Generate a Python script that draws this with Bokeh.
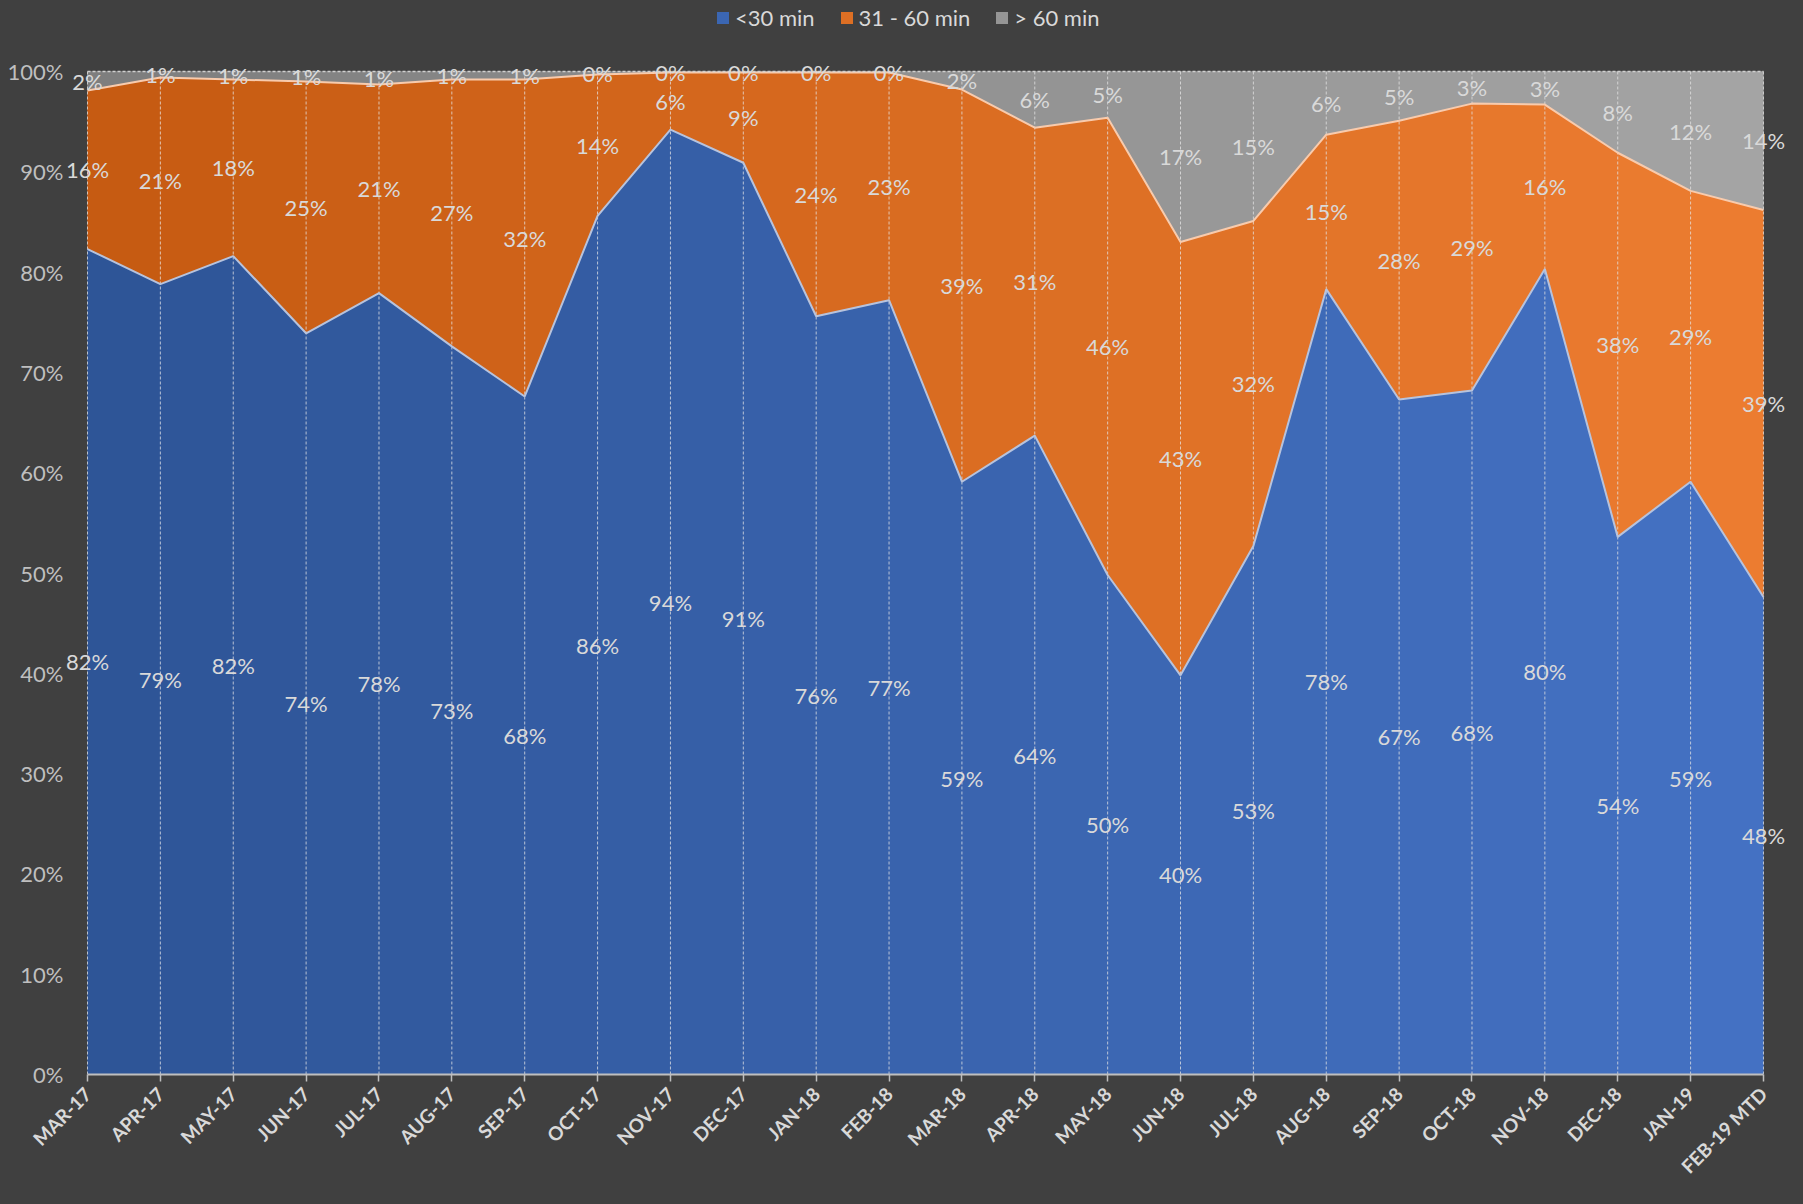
import numpy as np
from bokeh.plotting import figure
from bokeh.models import (Range1d, FixedTicker, Legend, LegendItem, PrintfTickFormatter,
                          GlobalInlineStyleSheet)
from bokeh.core.properties import value
from bokeh.embed import file_html
from bokeh.resources import INLINE

months = ["MAR-17", "APR-17", "MAY-17", "JUN-17", "JUL-17", "AUG-17", "SEP-17", "OCT-17",
          "NOV-17", "DEC-17", "JAN-18", "FEB-18", "MAR-18", "APR-18", "MAY-18", "JUN-18",
          "JUL-18", "AUG-18", "SEP-18", "OCT-18", "NOV-18", "DEC-18", "JAN-19", "FEB-19 MTD"]
lt30 = [82.3, 78.8, 81.6, 73.9, 77.9, 72.6, 67.6, 85.6, 94.2, 90.9, 75.6, 77.2,
        59.1, 63.7, 49.8, 39.8, 52.7, 78.3, 67.3, 68.2, 80.3, 53.6, 59.1, 47.6]
m31_60 = [15.8, 20.6, 17.6, 25.1, 20.8, 26.6, 31.6, 14.1, 5.7, 9.0, 24.3, 22.7,
          39.1, 30.7, 45.6, 43.2, 32.4, 15.4, 27.8, 28.6, 16.4, 38.3, 29.0, 38.6]
gt60 = [1.9, 0.6, 0.8, 1.0, 1.3, 0.8, 0.8, 0.3, 0.1, 0.1, 0.1, 0.1,
        1.8, 5.6, 4.6, 17.0, 14.9, 6.3, 4.9, 3.2, 3.3, 8.1, 11.9, 13.8]
series_names = ["<30 min", "31 - 60 min", "> 60 min"]
y_ticks = [0, 10, 20, 30, 40, 50, 60, 70, 80, 90, 100]

BG = "#404040"
FONT = value("Lato")

x = np.arange(len(months), dtype=float)
b = np.array(lt30)
o = np.array(m31_60)
g = np.array(gt60)
top_b = b
top_o = b + o
top_g = b + o + g
zeros = np.zeros_like(b)


def lerp(c1, c2, t):
    return "#%02x%02x%02x" % tuple(int(round(a + (c - a) * t)) for a, c in zip(c1, c2))


grads = [((46, 84, 150), (68, 114, 196)),
         ((197, 90, 17), (237, 125, 49)),
         ((125, 125, 125), (165, 165, 165))]
bands = [(zeros, top_b), (top_b, top_o), (top_o, top_g)]

p = figure(width=1787, height=1188,
           x_range=Range1d(-0.302, 23.33), y_range=Range1d(0, 107.08),
           output_backend="svg", toolbar_location=None,
           min_border_left=65, min_border_right=0, min_border_top=0, min_border_bottom=114)
p.background_fill_color = BG
p.border_fill_color = BG
p.outline_line_color = None
p.xgrid.visible = False
p.ygrid.visible = False
p.stylesheets = [GlobalInlineStyleSheet(css="html, body { background-color: #404040; }")]

n = len(months)
base_renderers = []
for (lo, hi), (c1, c2) in zip(bands, grads):
    # base fill (also used as legend glyph) hides seams between gradient slices
    base_renderers.append(p.varea(x=x, y1=lo, y2=hi, fill_color=lerp(c1, c2, 0.6)))
    for i in range(n - 1):
        t = (i + 0.5) / (n - 1)
        p.varea(x=x[i:i + 2], y1=lo[i:i + 2], y2=hi[i:i + 2], fill_color=lerp(c1, c2, t))

# vertical dashed drop lines
p.segment(x0=x, y0=zeros, x1=x, y1=top_g, line_color="#E6E6E6", line_alpha=0.75,
          line_width=1, line_dash="3 2")

# series edges
p.line(x, top_b, line_color="#B7C3DD", line_width=2)
p.line(x, top_o, line_color="#F8CBAD", line_width=2)
p.line(x, top_g, line_color="#D0D0D0", line_width=1.5, line_dash="3 2")

# data labels
def lab(v):
    return ["%d%%" % int(np.floor(val + 0.5)) for val in v]

for vals, lo in [(b, zeros), (o, top_b), (g, top_o)]:
    p.text(x=x, y=lo + vals / 2, text=lab(vals), text_align="center", text_baseline="middle",
           text_color="#D9D9D9", text_font=FONT, text_font_size="22px")

# x axis
p.xaxis.ticker = FixedTicker(ticks=list(range(n)))
p.xaxis.major_label_overrides = {i: m for i, m in enumerate(months)}
p.xaxis.major_label_orientation = np.pi / 4
p.xaxis.bounds = (0, n - 1)
p.xaxis.axis_line_color = "#BFBFBF"
p.xaxis.axis_line_width = 2
p.xaxis.major_tick_line_color = "#BFBFBF"
p.xaxis.major_tick_line_width = 1.5
p.xaxis.major_tick_out = 7
p.xaxis.major_tick_in = 0
p.xaxis.minor_tick_line_color = None
p.xaxis.major_label_text_color = "#D9D9D9"
p.xaxis.major_label_text_font = "Lato"
p.xaxis.major_label_text_font_style = "bold"
p.xaxis.major_label_text_font_size = "19px"
p.xaxis.major_label_standoff = 9

# y axis
p.yaxis.ticker = FixedTicker(ticks=y_ticks)
p.yaxis.formatter = PrintfTickFormatter(format="%d%%")
p.yaxis.axis_line_color = None
p.yaxis.major_tick_line_color = None
p.yaxis.minor_tick_line_color = None
p.yaxis.major_tick_out = 0
p.yaxis.major_tick_in = 0
p.yaxis.major_label_standoff = 2
p.yaxis.major_label_text_color = "#BFBFBF"
p.yaxis.major_label_text_font = "Lato"
p.yaxis.major_label_text_font_size = "22px"

# legend
items = [LegendItem(label=name, renderers=[r]) for name, r in zip(series_names, base_renderers)]
legend = Legend(items=items, orientation="horizontal", location=(650, 1043),
                glyph_width=15, glyph_height=15, label_standoff=5, spacing=24,
                padding=0, margin=0, label_text_font="Lato", label_text_font_size="22px",
                label_text_color="#D9D9D9", background_fill_alpha=0, border_line_alpha=0)
p.add_layout(legend)

open("out.html", "w").write(file_html(p, INLINE))
